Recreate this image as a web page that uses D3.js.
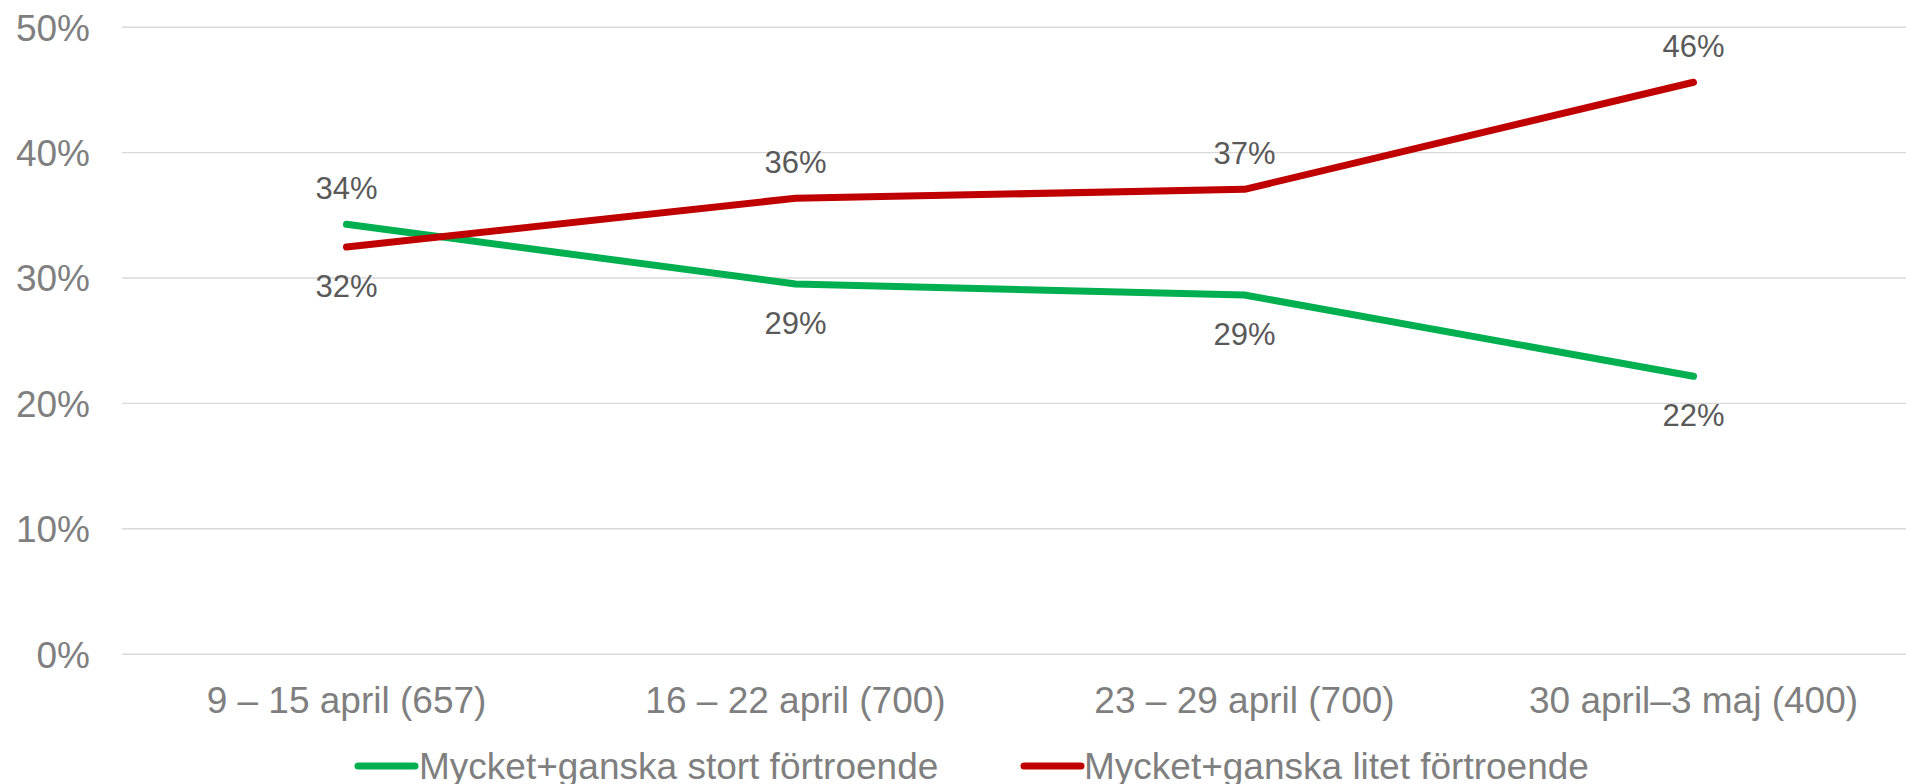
<!DOCTYPE html>
<html>
<head>
<meta charset="utf-8">
<script src="https://cdn.jsdelivr.net/npm/d3@7"></script>
<style>
  html, body { margin: 0; padding: 0; background: #fff; }
  svg { display: block; font-family: "Liberation Sans", Arial, sans-serif; }
</style>
</head>
<body>
<svg id="chart" width="1906" height="784"></svg>
<script>
const categories = ["9 – 15 april (657)", "16 – 22 april (700)", "23 – 29 april (700)", "30 april–3 maj (400)"];
const seriesNames = ["Mycket+ganska stort förtroende", "Mycket+ganska litet förtroende"];
const stortValues = [0.3424, 0.2948, 0.2860, 0.2212];
const litetValues = [0.3243, 0.3632, 0.3703, 0.4557];
const yTicks = [0, 0.1, 0.2, 0.3, 0.4, 0.5];
const colors = ["#00B050", "#C00000"];

const series = [
  { name: seriesNames[0], values: stortValues, color: colors[0] },
  { name: seriesNames[1], values: litetValues, color: colors[1] }
];

const svg = d3.select("#chart");
const W = 1906, H = 784;
const plotLeft = 122, plotRight = 1918, plotTop = 26.7, plotBottom = 653.7;

const x = d3.scaleBand().domain(categories).range([plotLeft, plotRight]).paddingInner(0).paddingOuter(0);
const y = d3.scaleLinear().domain([0, 0.5]).range([plotBottom, plotTop]);
const cx = c => x(c) + x.bandwidth() / 2;

// gridlines
const grid = svg.append("g")
  .attr("transform", `translate(${plotLeft},0)`)
  .call(d3.axisLeft(y).tickValues(yTicks).tickSize(-(plotRight - plotLeft)).tickFormat(""));
grid.select(".domain").remove();
grid.selectAll("line").attr("stroke", "#d9d9d9").attr("stroke-width", 1.4);

// y axis labels
const yAxis = svg.append("g")
  .attr("transform", `translate(90,0)`)
  .call(d3.axisLeft(y).tickValues(yTicks).tickSize(0).tickPadding(0).tickFormat(d3.format(".0%")));
yAxis.select(".domain").remove();
yAxis.selectAll("text")
  .attr("font-size", 37).attr("fill", "#7f7f7f")
  .attr("font-family", "Liberation Sans, Arial, sans-serif")
  .attr("dy", "0.36em");

// x axis labels
const xAxis = svg.append("g")
  .attr("transform", `translate(0,${plotBottom})`)
  .call(d3.axisBottom(x).tickSize(0).tickPadding(0));
xAxis.select(".domain").remove();
xAxis.selectAll("text")
  .attr("font-size", 37).attr("fill", "#7f7f7f")
  .attr("font-family", "Liberation Sans, Arial, sans-serif")
  .attr("dy", null)
  .attr("y", 59);

// lines
const line = d3.line()
  .x((d, i) => cx(categories[i]))
  .y(d => y(d));

series.forEach(s => {
  svg.append("path")
    .datum(s.values)
    .attr("d", line)
    .attr("fill", "none")
    .attr("stroke", s.color)
    .attr("stroke-width", 7)
    .attr("stroke-linecap", "round")
    .attr("stroke-linejoin", "round");
});

// data labels
series.forEach((s, si) => {
  const other = series[1 - si];
  svg.append("g").selectAll("text")
    .data(s.values)
    .join("text")
    .attr("x", (d, i) => cx(categories[i]))
    .attr("y", (d, i) => d >= other.values[i] ? y(d) - 25 : y(d) + 50)
    .attr("text-anchor", "middle")
    .attr("font-size", 31)
    .attr("fill", "#595959")
    .text(d => Math.round(d * 100) + "%");
});

// legend
const legendItems = [
  { s: series[0], x1: 358, x2: 415, tx: 419 },
  { s: series[1], x1: 1024, x2: 1081, tx: 1084 }
];
const lg = svg.append("g");
legendItems.forEach(it => {
  lg.append("line")
    .attr("x1", it.x1).attr("x2", it.x2)
    .attr("y1", 766).attr("y2", 766)
    .attr("stroke", it.s.color).attr("stroke-width", 7)
    .attr("stroke-linecap", "round");
  lg.append("text")
    .attr("x", it.tx).attr("y", 779)
    .attr("font-size", 37).attr("fill", "#7f7f7f")
    .text(it.s.name);
});
</script>
</body>
</html>
